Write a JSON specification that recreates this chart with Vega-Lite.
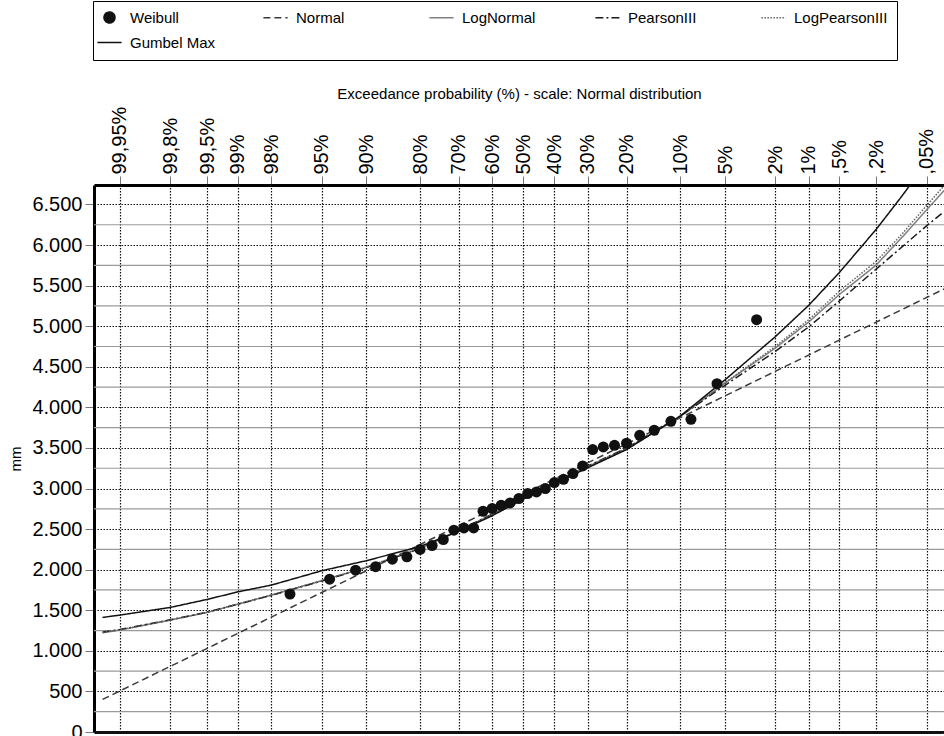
{
  "$schema": "https://vega.github.io/schema/vega-lite/v6.json",
  "width": 850,
  "height": 547,
  "autosize": {"type": "none"},
  "padding": {"left": 94, "top": 185, "right": 0, "bottom": 4},
  "background": "white",
  "config": {"view": {"stroke": null}, "font": "Liberation Sans"},
  "datasets": {
    "minor": [
      {"g": 250}, {"g": 750}, {"g": 1250}, {"g": 1750}, {"g": 2250}, {"g": 2750}, {"g": 3250},
      {"g": 3750}, {"g": 4250}, {"g": 4750}, {"g": 5250}, {"g": 5750}, {"g": 6250}
    ],
    "main": [
      {"s": "Weibull", "z": -1.9022, "v": 1699},
      {"s": "Weibull", "z": -1.5792, "v": 1883},
      {"s": "Weibull", "z": -1.367, "v": 1994},
      {"s": "Weibull", "z": -1.2036, "v": 2037},
      {"s": "Weibull", "z": -1.0676, "v": 2130},
      {"s": "Weibull", "z": -0.9491, "v": 2158},
      {"s": "Weibull", "z": -0.8416, "v": 2249},
      {"s": "Weibull", "z": -0.7436, "v": 2298},
      {"s": "Weibull", "z": -0.6522, "v": 2372},
      {"s": "Weibull", "z": -0.5659, "v": 2487},
      {"s": "Weibull", "z": -0.4837, "v": 2515},
      {"s": "Weibull", "z": -0.4047, "v": 2515},
      {"s": "Weibull", "z": -0.3281, "v": 2720},
      {"s": "Weibull", "z": -0.2533, "v": 2754},
      {"s": "Weibull", "z": -0.18, "v": 2794},
      {"s": "Weibull", "z": -0.1077, "v": 2823},
      {"s": "Weibull", "z": -0.0358, "v": 2877},
      {"s": "Weibull", "z": 0.0358, "v": 2938},
      {"s": "Weibull", "z": 0.1077, "v": 2958},
      {"s": "Weibull", "z": 0.18, "v": 3000},
      {"s": "Weibull", "z": 0.2533, "v": 3074},
      {"s": "Weibull", "z": 0.3281, "v": 3114},
      {"s": "Weibull", "z": 0.4047, "v": 3185},
      {"s": "Weibull", "z": 0.4837, "v": 3278},
      {"s": "Weibull", "z": 0.5659, "v": 3480},
      {"s": "Weibull", "z": 0.6522, "v": 3512},
      {"s": "Weibull", "z": 0.7436, "v": 3533},
      {"s": "Weibull", "z": 0.8416, "v": 3558},
      {"s": "Weibull", "z": 0.9491, "v": 3656},
      {"s": "Weibull", "z": 1.0676, "v": 3718},
      {"s": "Weibull", "z": 1.2036, "v": 3828},
      {"s": "Weibull", "z": 1.367, "v": 3853},
      {"s": "Weibull", "z": 1.5792, "v": 4292},
      {"s": "Weibull", "z": 1.9022, "v": 5080},

      {"s": "Normal", "z": -3.43, "v": 402},
      {"s": "Normal", "z": -3.29, "v": 505},
      {"s": "Normal", "z": -2.878, "v": 809},
      {"s": "Normal", "z": -2.576, "v": 1031},
      {"s": "Normal", "z": -2.326, "v": 1216},
      {"s": "Normal", "z": -2.054, "v": 1416},
      {"s": "Normal", "z": -1.645, "v": 1718},
      {"s": "Normal", "z": -1.282, "v": 1985},
      {"s": "Normal", "z": -0.842, "v": 2309},
      {"s": "Normal", "z": -0.524, "v": 2544},
      {"s": "Normal", "z": -0.253, "v": 2744},
      {"s": "Normal", "z": 0, "v": 2930},
      {"s": "Normal", "z": 0.253, "v": 3116},
      {"s": "Normal", "z": 0.524, "v": 3316},
      {"s": "Normal", "z": 0.842, "v": 3551},
      {"s": "Normal", "z": 1.282, "v": 3875},
      {"s": "Normal", "z": 1.645, "v": 4142},
      {"s": "Normal", "z": 2.054, "v": 4444},
      {"s": "Normal", "z": 2.326, "v": 4644},
      {"s": "Normal", "z": 2.576, "v": 4829},
      {"s": "Normal", "z": 2.878, "v": 5051},
      {"s": "Normal", "z": 3.09, "v": 5207},
      {"s": "Normal", "z": 3.29, "v": 5355},
      {"s": "Normal", "z": 3.43, "v": 5458},

      {"s": "LogNormal", "z": -3.43, "v": 1222},
      {"s": "LogNormal", "z": -3.29, "v": 1256},
      {"s": "LogNormal", "z": -2.878, "v": 1379},
      {"s": "LogNormal", "z": -2.576, "v": 1474},
      {"s": "LogNormal", "z": -2.326, "v": 1576},
      {"s": "LogNormal", "z": -2.054, "v": 1686},
      {"s": "LogNormal", "z": -1.645, "v": 1863},
      {"s": "LogNormal", "z": -1.282, "v": 2027},
      {"s": "LogNormal", "z": -0.842, "v": 2260},
      {"s": "LogNormal", "z": -0.524, "v": 2480},
      {"s": "LogNormal", "z": -0.253, "v": 2680},
      {"s": "LogNormal", "z": 0, "v": 2890},
      {"s": "LogNormal", "z": 0.253, "v": 3080},
      {"s": "LogNormal", "z": 0.524, "v": 3270},
      {"s": "LogNormal", "z": 0.842, "v": 3490},
      {"s": "LogNormal", "z": 1.282, "v": 3890},
      {"s": "LogNormal", "z": 1.645, "v": 4300},
      {"s": "LogNormal", "z": 2.054, "v": 4730},
      {"s": "LogNormal", "z": 2.326, "v": 5050},
      {"s": "LogNormal", "z": 2.576, "v": 5390},
      {"s": "LogNormal", "z": 2.878, "v": 5755},
      {"s": "LogNormal", "z": 3.09, "v": 6099},
      {"s": "LogNormal", "z": 3.29, "v": 6436},
      {"s": "LogNormal", "z": 3.43, "v": 6672},

      {"s": "PearsonIII", "z": -3.43, "v": 1232},
      {"s": "PearsonIII", "z": -3.29, "v": 1262},
      {"s": "PearsonIII", "z": -2.878, "v": 1382},
      {"s": "PearsonIII", "z": -2.576, "v": 1476},
      {"s": "PearsonIII", "z": -2.326, "v": 1575},
      {"s": "PearsonIII", "z": -2.054, "v": 1684},
      {"s": "PearsonIII", "z": -1.645, "v": 1860},
      {"s": "PearsonIII", "z": -1.282, "v": 2025},
      {"s": "PearsonIII", "z": -0.842, "v": 2262},
      {"s": "PearsonIII", "z": -0.524, "v": 2485},
      {"s": "PearsonIII", "z": -0.253, "v": 2685},
      {"s": "PearsonIII", "z": 0, "v": 2895},
      {"s": "PearsonIII", "z": 0.253, "v": 3085},
      {"s": "PearsonIII", "z": 0.524, "v": 3275},
      {"s": "PearsonIII", "z": 0.842, "v": 3500},
      {"s": "PearsonIII", "z": 1.282, "v": 3895},
      {"s": "PearsonIII", "z": 1.645, "v": 4272},
      {"s": "PearsonIII", "z": 2.054, "v": 4690},
      {"s": "PearsonIII", "z": 2.326, "v": 4990},
      {"s": "PearsonIII", "z": 2.576, "v": 5310},
      {"s": "PearsonIII", "z": 2.878, "v": 5705},
      {"s": "PearsonIII", "z": 3.09, "v": 5980},
      {"s": "PearsonIII", "z": 3.29, "v": 6240},
      {"s": "PearsonIII", "z": 3.43, "v": 6410},

      {"s": "LogPearsonIII", "z": -3.43, "v": 1226},
      {"s": "LogPearsonIII", "z": -3.29, "v": 1258},
      {"s": "LogPearsonIII", "z": -2.878, "v": 1380},
      {"s": "LogPearsonIII", "z": -2.576, "v": 1475},
      {"s": "LogPearsonIII", "z": -2.326, "v": 1578},
      {"s": "LogPearsonIII", "z": -2.054, "v": 1688},
      {"s": "LogPearsonIII", "z": -1.645, "v": 1865},
      {"s": "LogPearsonIII", "z": -1.282, "v": 2030},
      {"s": "LogPearsonIII", "z": -0.842, "v": 2265},
      {"s": "LogPearsonIII", "z": -0.524, "v": 2482},
      {"s": "LogPearsonIII", "z": -0.253, "v": 2682},
      {"s": "LogPearsonIII", "z": 0, "v": 2892},
      {"s": "LogPearsonIII", "z": 0.253, "v": 3082},
      {"s": "LogPearsonIII", "z": 0.524, "v": 3272},
      {"s": "LogPearsonIII", "z": 0.842, "v": 3495},
      {"s": "LogPearsonIII", "z": 1.282, "v": 3892},
      {"s": "LogPearsonIII", "z": 1.645, "v": 4305},
      {"s": "LogPearsonIII", "z": 2.054, "v": 4750},
      {"s": "LogPearsonIII", "z": 2.326, "v": 5080},
      {"s": "LogPearsonIII", "z": 2.576, "v": 5430},
      {"s": "LogPearsonIII", "z": 2.878, "v": 5800},
      {"s": "LogPearsonIII", "z": 3.09, "v": 6140},
      {"s": "LogPearsonIII", "z": 3.29, "v": 6490},
      {"s": "LogPearsonIII", "z": 3.43, "v": 6730},

      {"s": "Gumbel Max", "z": -3.43, "v": 1412},
      {"s": "Gumbel Max", "z": -3.29, "v": 1440},
      {"s": "Gumbel Max", "z": -2.878, "v": 1535},
      {"s": "Gumbel Max", "z": -2.576, "v": 1634},
      {"s": "Gumbel Max", "z": -2.326, "v": 1727},
      {"s": "Gumbel Max", "z": -2.054, "v": 1810},
      {"s": "Gumbel Max", "z": -1.645, "v": 1986},
      {"s": "Gumbel Max", "z": -1.282, "v": 2110},
      {"s": "Gumbel Max", "z": -0.842, "v": 2285},
      {"s": "Gumbel Max", "z": -0.524, "v": 2475},
      {"s": "Gumbel Max", "z": -0.253, "v": 2665},
      {"s": "Gumbel Max", "z": 0, "v": 2870},
      {"s": "Gumbel Max", "z": 0.253, "v": 3060},
      {"s": "Gumbel Max", "z": 0.524, "v": 3255},
      {"s": "Gumbel Max", "z": 0.842, "v": 3480},
      {"s": "Gumbel Max", "z": 1.282, "v": 3895},
      {"s": "Gumbel Max", "z": 1.645, "v": 4340},
      {"s": "Gumbel Max", "z": 2.054, "v": 4870},
      {"s": "Gumbel Max", "z": 2.326, "v": 5256},
      {"s": "Gumbel Max", "z": 2.576, "v": 5660},
      {"s": "Gumbel Max", "z": 2.878, "v": 6195},
      {"s": "Gumbel Max", "z": 3.09, "v": 6610},
      {"s": "Gumbel Max", "z": 3.29, "v": 7020},
      {"s": "Gumbel Max", "z": 3.43, "v": 7310}
    ]
  },
  "layer": [
    {
      "data": {"name": "minor"},
      "mark": {"type": "rule", "color": "#9a9a9a", "strokeWidth": 1.2},
      "encoding": {
        "y": {
          "field": "g", "type": "quantitative",
          "scale": {"domain": [0, 6740], "nice": false},
          "axis": {
            "orient": "left",
            "values": [0, 250, 500, 750, 1000, 1250, 1500, 1750, 2000, 2250, 2500, 2750, 3000, 3250, 3500, 3750, 4000, 4250, 4500, 4750, 5000, 5250, 5500, 5750, 6000, 6250, 6500],
            "labelExpr": "datum.value % 500 === 0 ? replace(format(datum.value, ','), ',', '.') : ''",
            "labelFontSize": 20,
            "labelFont": "Liberation Sans",
            "labelColor": "black",
            "labelPadding": 3,
            "labelOverlap": false,
            "labelFlush": false,
            "labelBound": false,
            "tickSize": 9,
            "tickColor": "#777777",
            "tickWidth": 1,
            "domainColor": "black",
            "domainWidth": 3,
            "grid": true,
            "gridColor": "#111111",
            "gridDash": {"condition": {"test": "datum.value === 0", "value": [1, 0]}, "value": [1.5, 1.5]},
            "gridWidth": {"condition": {"test": "datum.value === 0", "value": 3}, "value": 1.2},
            "gridOpacity": {"condition": {"test": "datum.value % 500 === 0", "value": 1}, "value": 0},
            "title": "mm",
            "titleFont": "Liberation Sans",
            "titleFontSize": 15,
            "titleFontWeight": "normal",
            "titleColor": "black",
            "titlePadding": 8
          }
        }
      }
    },
    {
      "data": {"name": "main"},
      "transform": [{"filter": "datum.s !== 'Weibull'"}],
      "mark": {"type": "line", "clip": true, "strokeWidth": 1.5},
      "encoding": {
        "x": {
          "field": "z", "type": "quantitative",
          "scale": {"domain": [-3.5, 3.43], "nice": false, "zero": false},
          "axis": {
            "orient": "top",
            "values": [-3.2905, -2.8782, -2.5758, -2.3263, -2.0537, -1.6449, -1.2816, -0.8416, -0.5244, -0.2533, 0, 0.2533, 0.5244, 0.8416, 1.2816, 1.6449, 2.0537, 2.3263, 2.5758, 2.8782, 3.2905],
            "labelExpr": "datum.value < -3 ? '99,95%' : datum.value < -2.7 ? '99,8%' : datum.value < -2.4 ? '99,5%' : datum.value < -2.2 ? '99%' : datum.value < -1.9 ? '98%' : datum.value < -1.5 ? '95%' : datum.value < -1.1 ? '90%' : datum.value < -0.7 ? '80%' : datum.value < -0.4 ? '70%' : datum.value < -0.1 ? '60%' : datum.value < 0.1 ? '50%' : datum.value < 0.4 ? '40%' : datum.value < 0.7 ? '30%' : datum.value < 1.1 ? '20%' : datum.value < 1.5 ? '10%' : datum.value < 1.9 ? '5%' : datum.value < 2.2 ? '2%' : datum.value < 2.4 ? '1%' : datum.value < 2.7 ? ',5%' : datum.value < 3 ? ',2%' : ',05%'",
            "labelAngle": -90,
            "labelFontSize": 20,
            "labelFont": "Liberation Sans",
            "labelColor": "black",
            "labelPadding": 2,
            "labelOverlap": false,
            "labelFlush": false,
            "labelBound": false,
            "tickSize": 9,
            "tickColor": "#777777",
            "tickWidth": 1,
            "domainColor": "black",
            "domainWidth": 3,
            "grid": true,
            "gridColor": "#111111",
            "gridDash": [1.5, 1.5],
            "gridWidth": 1.2,
            "gridOpacity": 1,
            "title": "Exceedance probability  (%) - scale: Normal distribution",
            "titleFont": "Liberation Sans",
            "titleFontSize": 15,
            "titleFontWeight": "normal",
            "titleColor": "black",
            "titleBaseline": "middle",
            "titleY": -92
          }
        },
        "y": {"field": "v", "type": "quantitative"},
        "color": {
          "field": "s", "type": "nominal",
          "scale": {
            "domain": ["Weibull", "Normal", "LogNormal", "PearsonIII", "LogPearsonIII", "Gumbel Max"],
            "range": ["#111111", "#3a3a3a", "#808080", "#1a1a1a", "#666666", "#111111"]
          },
          "legend": {
            "title": null,
            "orient": "none",
            "legendX": -1,
            "legendY": -184,
            "direction": "horizontal",
            "columns": 5,
            "gridAlign": "all",
            "columnPadding": 36,
            "rowPadding": 9,
            "padding": 9,
            "strokeColor": "black",
            "fillColor": "white",
            "labelFont": "Liberation Sans",
            "labelFontSize": 15,
            "labelColor": "black",
            "labelOffset": 13,
            "labelLimit": 200,
            "symbolSize": 121,
            "symbolStrokeWidth": 1.5,
            "symbolOpacity": 1
          }
        },
        "strokeDash": {
          "field": "s", "type": "nominal",
          "scale": {
            "domain": ["Weibull", "Normal", "LogNormal", "PearsonIII", "LogPearsonIII", "Gumbel Max"],
            "range": [[1, 0], [7, 4], [1, 0], [8, 3, 2, 3], [1.5, 1.5], [1, 0]]
          }
        }
      }
    },
    {
      "data": {"name": "main"},
      "transform": [{"filter": "datum.s === 'Weibull'"}],
      "mark": {"type": "point", "filled": true, "size": 121, "opacity": 1},
      "encoding": {
        "x": {"field": "z", "type": "quantitative"},
        "y": {"field": "v", "type": "quantitative"},
        "color": {"field": "s", "type": "nominal"},
        "shape": {
          "field": "s", "type": "nominal",
          "scale": {
            "domain": ["Weibull", "Normal", "LogNormal", "PearsonIII", "LogPearsonIII", "Gumbel Max"],
            "range": ["circle", "M-2.2,0H2.2", "M-2.2,0H2.2", "M-2.2,0H2.2", "M-2.2,0H2.2", "M-2.2,0H2.2"]
          }
        }
      }
    }
  ]
}
